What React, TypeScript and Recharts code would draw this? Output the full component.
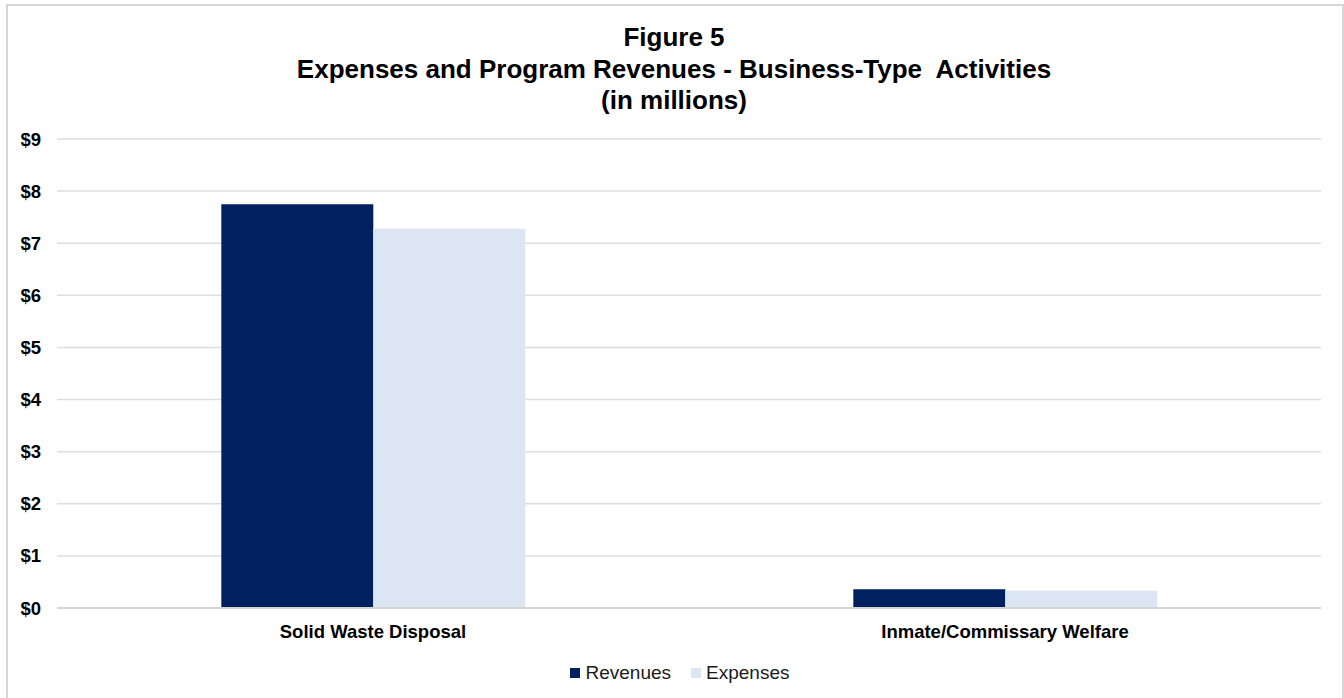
import { BarChart, Bar, XAxis, YAxis, CartesianGrid, Legend } from "recharts";

const categories = ["Solid Waste Disposal", "Inmate/Commissary Welfare"];
const revenues = [7.75, 0.36];
const expenses = [7.28, 0.33];
const yTicks = [0, 1, 2, 3, 4, 5, 6, 7, 8, 9];
const seriesOrder = ["Revenues", "Expenses"];
const titleLines = ["Figure 5", "Expenses and Program Revenues - Business-Type  Activities", "(in millions)"];

const data = categories.map((name, i) => ({ name, revenues: revenues[i], expenses: expenses[i] }));

const font = "'Liberation Sans', Arial, sans-serif";

const LegendContent = (props: any) => {
	const items = [...(props.payload || [])].sort(
		(a: any, b: any) => seriesOrder.indexOf(a.value) - seriesOrder.indexOf(b.value)
	);
	return (
		<div style={{ display: "flex", justifyContent: "center", fontFamily: font, fontSize: 19, color: "#1a1a1a" }}>
			{items.map((entry: any, i: number) => (
				<div key={entry.value} style={{ display: "flex", alignItems: "center", marginLeft: i > 0 ? 20 : 0 }}>
					<span style={{ width: 10, height: 10, background: entry.color, display: "inline-block", marginRight: 5 }} />
					<span>{entry.value}</span>
				</div>
			))}
		</div>
	);
};

const App = () => {
	return (
		<div style={{ position: "absolute", left: 0, top: 0, width: 1344, height: 698, background: "#fff", overflow: "hidden" }}>
			<div
				style={{
					position: "absolute",
					left: 6,
					top: 4,
					width: 1334,
					height: 710,
					boxSizing: "content-box",
					borderTop: "2px solid #d6d6d6",
					borderLeft: "2px solid #d6d6d6",
					borderRight: "2px solid #d6d6d6",
				}}
			/>
			<div
				style={{
					position: "absolute",
					left: 6,
					width: 1336,
					top: 22,
					textAlign: "center",
					fontFamily: font,
					fontWeight: "bold",
					fontSize: 26,
					lineHeight: "31.5px",
					color: "#000",
					whiteSpace: "pre",
				}}
			>
				{titleLines.map((t) => (
					<div key={t}>{t}</div>
				))}
			</div>
			<div style={{ position: "absolute", left: 0, top: 0 }}>
				<BarChart
					width={1344}
					height={698}
					data={data}
					margin={{ top: 139, right: 23, bottom: 0, left: 7 }}
					barCategoryGap="26%"
					barGap={0}
				>
					<CartesianGrid horizontal vertical={false} stroke="#dedede" strokeWidth={1.5} />
					<XAxis
						dataKey="name"
						axisLine={{ stroke: "#d4d4d4", strokeWidth: 2 }}
						tickLine={false}
						tickSize={0}
						tickMargin={17}
						height={65}
						tick={{ fontFamily: font, fontSize: 18.5, fontWeight: "bold", fill: "#000" }}
					/>
					<YAxis
						domain={[0, 9]}
						ticks={yTicks}
						width={50}
						axisLine={false}
						tickLine={false}
						tickSize={0}
						tickMargin={16}
						tickFormatter={(v) => `$${v}`}
						tick={{ fontFamily: font, fontSize: 18.5, fontWeight: "bold", fill: "#000" }}
					/>
					<Legend
						content={<LegendContent />}
						verticalAlign="bottom"
						wrapperStyle={{ top: 662, left: 8, width: 1344, height: 25 }}
					/>
					<Bar dataKey="revenues" name="Revenues" fill="#002060" isAnimationActive={false} />
					<Bar dataKey="expenses" name="Expenses" fill="#DCE6F2" isAnimationActive={false} />
				</BarChart>
			</div>
		</div>
	);
};

export default App;
